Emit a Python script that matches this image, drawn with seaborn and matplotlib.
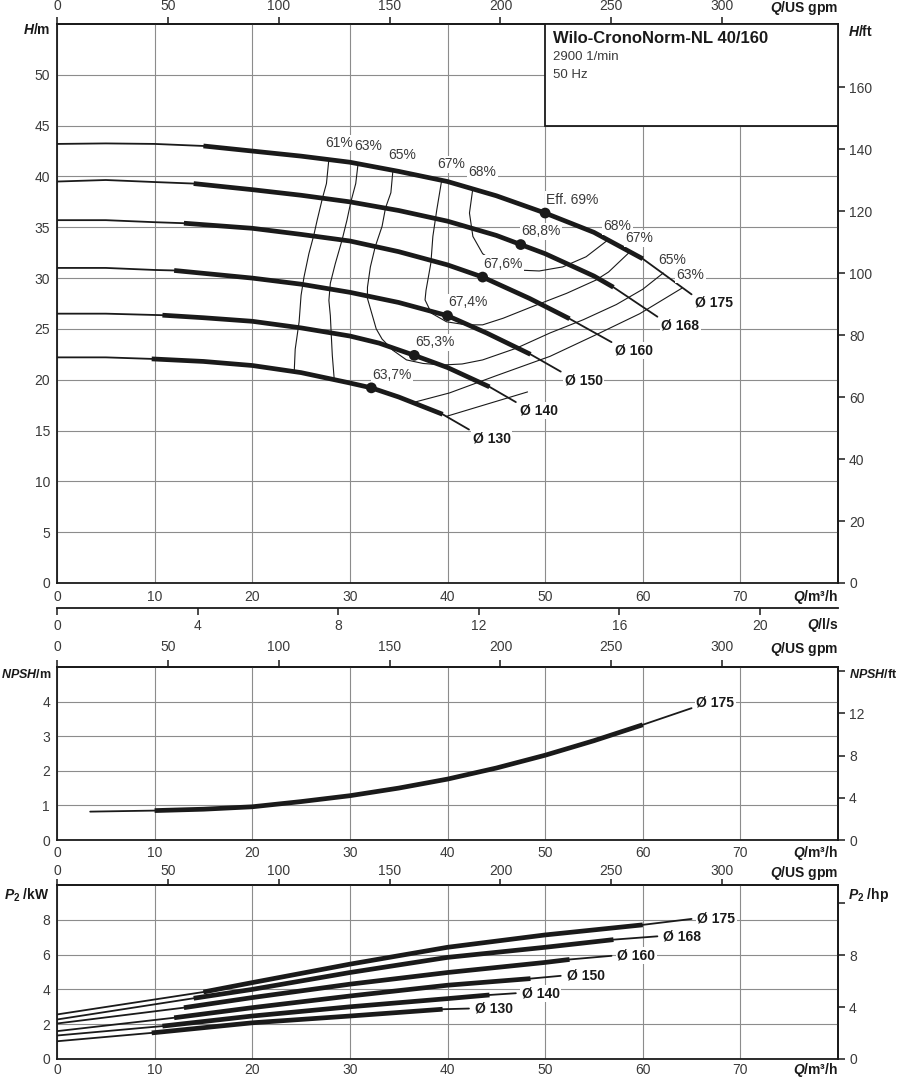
import matplotlib
matplotlib.use("Agg")
import numpy as np
import pandas as pd
import matplotlib.pyplot as plt
import seaborn as sns
from matplotlib.patches import Rectangle

# ---------------- data ----------------
diam_labels = ["Ø 175", "Ø 168", "Ø 160", "Ø 150", "Ø 140", "Ø 130"]

# H-Q curves  (Q in m³/h, H in m)
q_175 = [0, 5, 10, 15, 20, 25, 30, 35, 40, 45, 50, 55, 60, 65]
h_175 = [43.2, 43.25, 43.2, 43.0, 42.5, 42.0, 41.4, 40.5, 39.5, 38.1, 36.4, 34.5, 31.9, 28.4]
q_168 = [0, 5, 10, 14, 20, 25, 30, 35, 40, 45, 47.5, 50, 55, 57, 61.5]
h_168 = [39.5, 39.65, 39.45, 39.3, 38.7, 38.15, 37.5, 36.65, 35.6, 34.2, 33.3, 32.4, 30.2, 29.1, 26.2]
q_160 = [0, 5, 10, 13, 20, 25, 30, 35, 40, 43.6, 48.4, 52.5, 56.8]
h_160 = [35.7, 35.7, 35.5, 35.4, 34.9, 34.3, 33.65, 32.6, 31.3, 30.1, 28.0, 26.0, 23.7]
q_150 = [0, 5, 10, 12, 20, 25, 30, 35, 40, 44, 48.5, 51.6]
h_150 = [31.0, 31.0, 30.8, 30.75, 30.0, 29.4, 28.6, 27.6, 26.3, 24.6, 22.5, 20.8]
q_140 = [0, 5, 10.8, 15, 20, 25, 30, 33, 36.6, 40, 44.3, 47]
h_140 = [26.5, 26.5, 26.35, 26.1, 25.75, 25.1, 24.3, 23.6, 22.4, 21.2, 19.3, 17.8]
q_130 = [0, 5, 9.7, 15, 20, 25, 29.9, 32.2, 35, 39.5, 42.2]
h_130 = [22.2, 22.2, 22.05, 21.8, 21.4, 20.7, 19.7, 19.2, 18.3, 16.6, 15.1]

# preferred operating range (thick part of each curve)
thick_start = [15, 14, 13, 12, 10.8, 9.7]
thick_end = [60, 57, 52.5, 48.5, 44.3, 39.5]

# best efficiency points
bep_q = [50, 47.5, 43.6, 40, 36.6, 32.2]
bep_h = [36.4, 33.3, 30.1, 26.3, 22.4, 19.2]
bep_labels = ["Eff. 69%", "68,8%", "67,6%", "67,4%", "65,3%", "63,7%"]

# iso-efficiency curves
eff_61_q = [27.85, 27.6, 27.2, 26.65, 26.3, 25.8, 25.3, 25.0, 24.8, 24.4, 24.3]
eff_61_h = [41.7, 39.3, 37.9, 35.7, 34.2, 32.4, 30.1, 28.3, 25.7, 23.0, 20.8]
eff_61r_q = [39.9, 48.2]
eff_61r_h = [16.4, 18.8]
eff_63_q = [30.85, 30.6, 30.1, 29.7, 29.2, 28.5, 28.0, 27.85, 28.0, 28.1, 28.2, 28.4]
eff_63_h = [41.35, 39.3, 37.5, 35.7, 33.75, 31.4, 29.5, 27.8, 26.3, 24.3, 22.4, 20.0]
eff_63r_q = [36.45, 40.2, 45, 50.5, 55.6, 59.7, 64.0]
eff_63r_h = [17.75, 18.7, 20.4, 22.3, 24.6, 26.5, 29.0]
eff_65_q = [34.4, 34.2, 33.65, 33.3, 32.6, 32.1, 31.8, 31.8, 32.1, 32.7, 33.3, 34.4, 35.8,
            37.5, 39.5, 41.5, 43.6, 47.05, 50.5, 53.9, 57.3, 60.0, 62.1]
eff_65_h = [40.5, 38.4, 36.9, 35.1, 33.1, 31.1, 29.1, 28.0, 27.0, 25.0, 24.0, 22.9, 21.95,
            21.6, 21.45, 21.55, 21.95, 23.1, 24.6, 25.9, 27.4, 28.9, 30.5]
eff_67_q = [39.4, 38.9, 38.5, 38.3, 37.8, 37.7, 38.35, 39.9, 41.9, 43.6, 45.7, 48.7, 52.2, 55.2, 56.5, 58.7]
eff_67_h = [39.6, 36.7, 34.1, 31.5, 28.8, 27.85, 26.55, 25.7, 25.4, 25.4, 26.05, 27.2, 28.5, 29.8, 30.6, 32.6]
eff_68_q = [42.6, 42.25, 42.6, 43.6, 45.3, 47.0, 49.4, 51.8, 54.2, 56.5]
eff_68_h = [38.85, 36.4, 34.1, 32.4, 31.3, 30.8, 30.7, 31.1, 32.1, 33.8]
eff_left_labels = ["61%", "63%", "65%", "67%", "68%"]
eff_right_labels = ["68%", "67%", "65%", "63%"]

# NPSH curve (Ø 175)
npsh_q = [3.4, 10, 15, 20, 25, 30, 35, 40, 45, 50, 55, 60, 65]
npsh_m = [0.82, 0.85, 0.89, 0.96, 1.11, 1.28, 1.50, 1.76, 2.08, 2.45, 2.87, 3.33, 3.81]
npsh_thick = (10, 60)

# P2 power curves (kW)
pq_175 = [0, 15, 20, 30, 40, 50, 60, 65]
p_175 = [2.56, 3.85, 4.39, 5.45, 6.42, 7.13, 7.71, 8.05]
pq_168 = [0, 14, 20, 30, 40, 50, 57, 61.5]
p_168 = [2.27, 3.49, 4.0, 4.97, 5.84, 6.42, 6.86, 7.05]
pq_160 = [0, 13, 20, 30, 40, 50, 52.5, 56.8]
p_160 = [2.04, 2.95, 3.53, 4.30, 4.97, 5.55, 5.72, 5.93]
pq_150 = [0, 12, 20, 30, 40, 48.5, 51.6]
p_150 = [1.60, 2.37, 2.95, 3.62, 4.24, 4.62, 4.78]
pq_140 = [0, 10.8, 20, 30, 40, 44.3, 47]
p_140 = [1.35, 1.89, 2.47, 3.0, 3.47, 3.68, 3.78]
pq_130 = [0, 9.7, 20, 30, 39.5, 42.2]
p_130 = [1.02, 1.50, 2.08, 2.47, 2.86, 2.90]

title = "Wilo-CronoNorm-NL 40/160"
subtitle_1 = "2900 1/min"
subtitle_2 = "50 Hz"

# unit conversions
GPM = 4.402868      # US gpm per m³/h
FT = 3.28084        # ft per m
HP = 1.341022       # hp per kW
LS = 1 / 3.6        # l/s per m³/h

# ---------------- style ----------------
sns.set_theme(style="white")
plt.rcParams["font.family"] = ["Liberation Sans", "DejaVu Sans"]
plt.rcParams["mathtext.fontset"] = "custom"
plt.rcParams["mathtext.it"] = "Liberation Sans:italic:bold"
plt.rcParams["mathtext.rm"] = "Liberation Sans:bold"
plt.rcParams["mathtext.bf"] = "Liberation Sans:bold"

INK = "#1a1a1a"
GRID = "#8c8c8c"
TXT = "#3a3a3a"
W, H = 898, 1080

fig = plt.figure(figsize=(W / 100, H / 100), dpi=100)
fig.patch.set_facecolor("white")


def add_ax(left, top, right, bottom):
    return fig.add_axes([left / W, 1 - bottom / H, (right - left) / W, (bottom - top) / H])


def ftext(px, py, s, **kw):
    kw.setdefault("fontsize", 10)
    kw.setdefault("fontweight", "bold")
    kw.setdefault("color", INK)
    fig.text(px / W, 1 - py / H, s, **kw)


def style_axes(ax, ylim, yticks, xpad):
    ax.set_xlim(0, 80)
    ax.set_ylim(*ylim)
    ax.set_xticks(range(0, 80, 10))
    ax.set_yticks(yticks)
    ax.grid(True, color=GRID, linewidth=0.8)
    for s in ax.spines.values():
        s.set_linewidth(1.3)
        s.set_color(INK)
    ax.tick_params(axis="both", length=0, labelsize=10, labelcolor=TXT)
    ax.tick_params(axis="x", pad=xpad)
    ax.tick_params(axis="y", pad=5)
    ax.set_xlabel("")
    ax.set_ylabel("")


def curve(ax, q, v, qs, qe, thin=1.3, thick=3.4):
    df = pd.DataFrame({"Q": q, "V": v})
    sns.lineplot(data=df, x="Q", y="V", ax=ax, color=INK, linewidth=thin,
                 sort=False, estimator=None, zorder=4)
    seg = df[(df.Q >= qs) & (df.Q <= qe)]
    sns.lineplot(data=seg, x="Q", y="V", ax=ax, color=INK, linewidth=thick,
                 sort=False, estimator=None, zorder=4, solid_capstyle="butt")


def sec_x(ax, loc, conv, ticks, length, pad):
    s = ax.secondary_xaxis(loc, functions=(lambda x: x * conv, lambda x: x / conv))
    s.set_xticks(ticks)
    s.tick_params(length=length, width=1.1, pad=pad, labelsize=10, labelcolor=TXT, color=INK)
    for sp in s.spines.values():
        sp.set_linewidth(1.3)
        sp.set_color(INK)
    return s


def sec_y(ax, conv, ticks, labels):
    s = ax.secondary_yaxis("right", functions=(lambda x: x * conv, lambda x: x / conv))
    s.set_yticks(ticks, labels)
    s.tick_params(length=5, width=1.1, pad=3, labelsize=10, labelcolor=TXT, color=INK)
    for sp in s.spines.values():
        sp.set_linewidth(1.3)
        sp.set_color(INK)
    return s


box = dict(facecolor="white", edgecolor="none", pad=1.0)

# ================= H-Q panel =================
ax1 = add_ax(57, 24, 838, 583)
style_axes(ax1, (0, 55), range(0, 51, 5), 5)

h_curves = [(q_175, h_175), (q_168, h_168), (q_160, h_160),
            (q_150, h_150), (q_140, h_140), (q_130, h_130)]
for (q, h), qs, qe, lab in zip(h_curves, thick_start, thick_end, diam_labels):
    curve(ax1, q, h, qs, qe)
    ax1.text(q[-1] + 0.4, h[-1] - 0.85, lab, fontsize=10, fontweight="bold",
             color=INK, ha="left", va="center", bbox=box, zorder=6)

eff_lines = [(eff_61_q, eff_61_h), (eff_61r_q, eff_61r_h), (eff_63_q, eff_63_h),
             (eff_63r_q, eff_63r_h), (eff_65_q, eff_65_h), (eff_67_q, eff_67_h),
             (eff_68_q, eff_68_h)]
for q, h in eff_lines:
    sns.lineplot(x=q, y=h, ax=ax1, color=INK, linewidth=0.8, sort=False,
                 estimator=None, zorder=3)

for (q, h), lab in zip([(eff_61_q, eff_61_h), (eff_63_q, eff_63_h), (eff_65_q, eff_65_h),
                        (eff_67_q, eff_67_h), (eff_68_q, eff_68_h)], eff_left_labels):
    ax1.text(q[0] + 1.0, h[0] + 1.6, lab, fontsize=10, color=TXT, ha="center",
             va="center", bbox=box, zorder=5)
for (q, h), lab in zip([(eff_68_q, eff_68_h), (eff_67_q, eff_67_h), (eff_65_q, eff_65_h),
                        (eff_63r_q, eff_63r_h)], eff_right_labels):
    ax1.text(q[-1] + 0.9, h[-1] + 1.3, lab, fontsize=10, color=TXT, ha="center",
             va="center", bbox=box, zorder=5)

sns.scatterplot(x=bep_q, y=bep_h, ax=ax1, color=INK, s=60, edgecolor="none", zorder=7)
for q, h, lab in zip(bep_q, bep_h, bep_labels):
    ax1.text(q + 0.1, h + 1.3, lab, fontsize=10, color=TXT, ha="left", va="center",
             bbox=box, zorder=6)

ax1.add_patch(Rectangle((50, 45), 30, 10, facecolor="white", edgecolor=INK,
                        linewidth=1.3, zorder=3))
ax1.text(50.8, 53.6, title, fontsize=12, fontweight="bold", color=INK, va="center", zorder=4)
ax1.text(50.8, 51.8, subtitle_1, fontsize=9.5, color=TXT, va="center", zorder=4)
ax1.text(50.8, 50.0, subtitle_2, fontsize=9.5, color=TXT, va="center", zorder=4)
ax1.set_xlabel("")
ax1.set_ylabel("")

sec_x(ax1, "top", GPM, range(0, 301, 50), 5, 3)
sec_x(ax1, -25 / 559, LS, range(0, 21, 4), 5, 3)
sec_y(ax1, FT, range(0, 161, 20), [str(v) for v in range(0, 161, 20)])

ftext(50, 30, r"$\mathit{H}$/m", ha="right", va="center")
ftext(848, 31, r"$\mathit{H}$/ft", ha="left", va="center")
ftext(838, 8, r"$\mathit{Q}$/US gpm", ha="right", va="center")
ftext(838, 597, r"$\mathit{Q}$/m³/h", ha="right", va="center")
ftext(838, 625, r"$\mathit{Q}$/l/s", ha="right", va="center")

# ================= NPSH panel =================
ax2 = add_ax(57, 667, 838, 840)
style_axes(ax2, (0, 5), range(0, 5), 4)
curve(ax2, npsh_q, npsh_m, npsh_thick[0], npsh_thick[1])
ax2.text(npsh_q[-1] + 0.5, npsh_m[-1] + 0.15, diam_labels[0], fontsize=10,
         fontweight="bold", color=INK, ha="left", va="center", bbox=box, zorder=6)
ax2.set_xlabel("")
ax2.set_ylabel("")
sec_x(ax2, "top", GPM, range(0, 301, 50), 5, 4)
sec_y(ax2, FT, [0, 4, 8, 12, 16], ["0", "4", "8", "12", ""])

ftext(1, 675, r"$\mathit{NPSH}$/m", ha="left", va="center", fontsize=9)
ftext(897, 675, r"$\mathit{NPSH}$/ft", ha="right", va="center", fontsize=9)
ftext(838, 853, r"$\mathit{Q}$/m³/h", ha="right", va="center")
ftext(838, 649, r"$\mathit{Q}$/US gpm", ha="right", va="center")

# ================= P2 panel =================
ax3 = add_ax(57, 885, 838, 1059)
style_axes(ax3, (0, 10), range(0, 9, 2), 3)
p_curves = [(pq_175, p_175), (pq_168, p_168), (pq_160, p_160),
            (pq_150, p_150), (pq_140, p_140), (pq_130, p_130)]
for (q, p), qs, qe, lab in zip(p_curves, thick_start, thick_end, diam_labels):
    curve(ax3, q, p, qs, qe)
    ax3.text(q[-1] + 0.6, p[-1], lab, fontsize=10, fontweight="bold", color=INK,
             ha="left", va="center", bbox=box, zorder=6)
ax3.set_xlabel("")
ax3.set_ylabel("")
sec_x(ax3, "top", GPM, range(0, 301, 50), 4, 1)
sec_y(ax3, HP, [0, 4, 8, 12], ["0", "4", "8", ""])

ftext(50, 895, r"$\mathit{P}_2$ /kW", ha="right", va="center")
ftext(848, 895, r"$\mathit{P}_2$ /hp", ha="left", va="center")
ftext(838, 873, r"$\mathit{Q}$/US gpm", ha="right", va="center")
ftext(838, 1070, r"$\mathit{Q}$/m³/h", ha="right", va="center")

fig.savefig("out.png", dpi=100, facecolor="white")
